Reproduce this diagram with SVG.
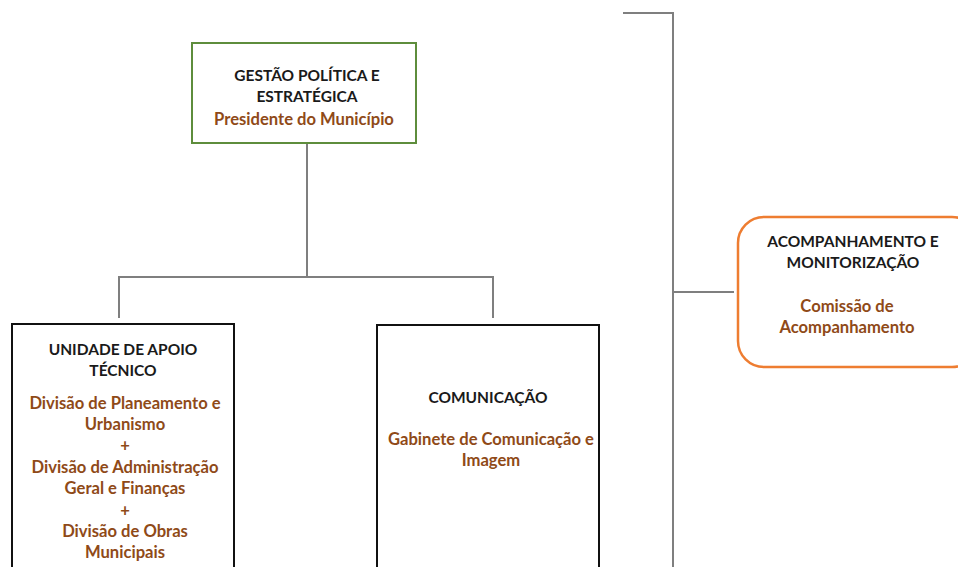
<svg xmlns="http://www.w3.org/2000/svg" width="958" height="567" viewBox="0 0 958 567">
<style>
.t{font-family:Lato,"Open Sans","Liberation Sans",sans-serif;font-weight:bold;text-anchor:middle}
.k{fill:#1a1a1a;font-size:15.5px}
.b{fill:#8f4a18;font-size:16.6px}
.c{stroke:#7f7f7f;stroke-width:2;fill:none}
</style>
<rect width="958" height="567" fill="#fff"/>
<g id="connectors">
<path class="c" d="M307 143V277M119 318V277H493V318"/>
<path class="c" d="M623 13H673V567M673 292H734"/>
</g>
<g id="gestao">
<rect x="192" y="43" width="224" height="100" fill="#fff" stroke="#5e8d3c" stroke-width="2"/>
<text class="t k" x="307" y="81">GESTÃO POLÍTICA E</text>
<text class="t k" x="307" y="102">ESTRATÉGICA</text>
<text class="t b" x="304" y="125">Presidente do Município</text>
</g>
<g id="apoio">
<rect x="12" y="324" width="222" height="260" fill="#fff" stroke="#111" stroke-width="2"/>
<text class="t k" x="123" y="355">UNIDADE DE APOIO</text>
<text class="t k" x="123" y="376">TÉCNICO</text>
<text class="t b" x="125" y="409">Divisão de Planeamento e</text>
<text class="t b" x="125" y="430">Urbanismo</text>
<text class="t b" x="125" y="451">+</text>
<text class="t b" x="125" y="473">Divisão de Administração</text>
<text class="t b" x="125" y="494">Geral e Finanças</text>
<text class="t b" x="125" y="516">+</text>
<text class="t b" x="125" y="537">Divisão de Obras</text>
<text class="t b" x="125" y="558">Municipais</text>
</g>
<g id="comunicacao">
<rect x="377" y="325" width="222" height="260" fill="#fff" stroke="#111" stroke-width="2"/>
<text class="t k" x="488" y="403">COMUNICAÇÃO</text>
<text class="t b" x="491" y="445">Gabinete de Comunicação e</text>
<text class="t b" x="491" y="466">Imagem</text>
</g>
<g id="acompanhamento">
<rect x="738" y="217" width="240" height="150" rx="26" fill="#fff" stroke="#ee7d31" stroke-width="2.5"/>
<text class="t k" x="853" y="247">ACOMPANHAMENTO E</text>
<text class="t k" x="853" y="268">MONITORIZAÇÃO</text>
<text class="t b" x="847" y="312">Comissão de</text>
<text class="t b" x="847" y="333">Acompanhamento</text>
</g>
</svg>
